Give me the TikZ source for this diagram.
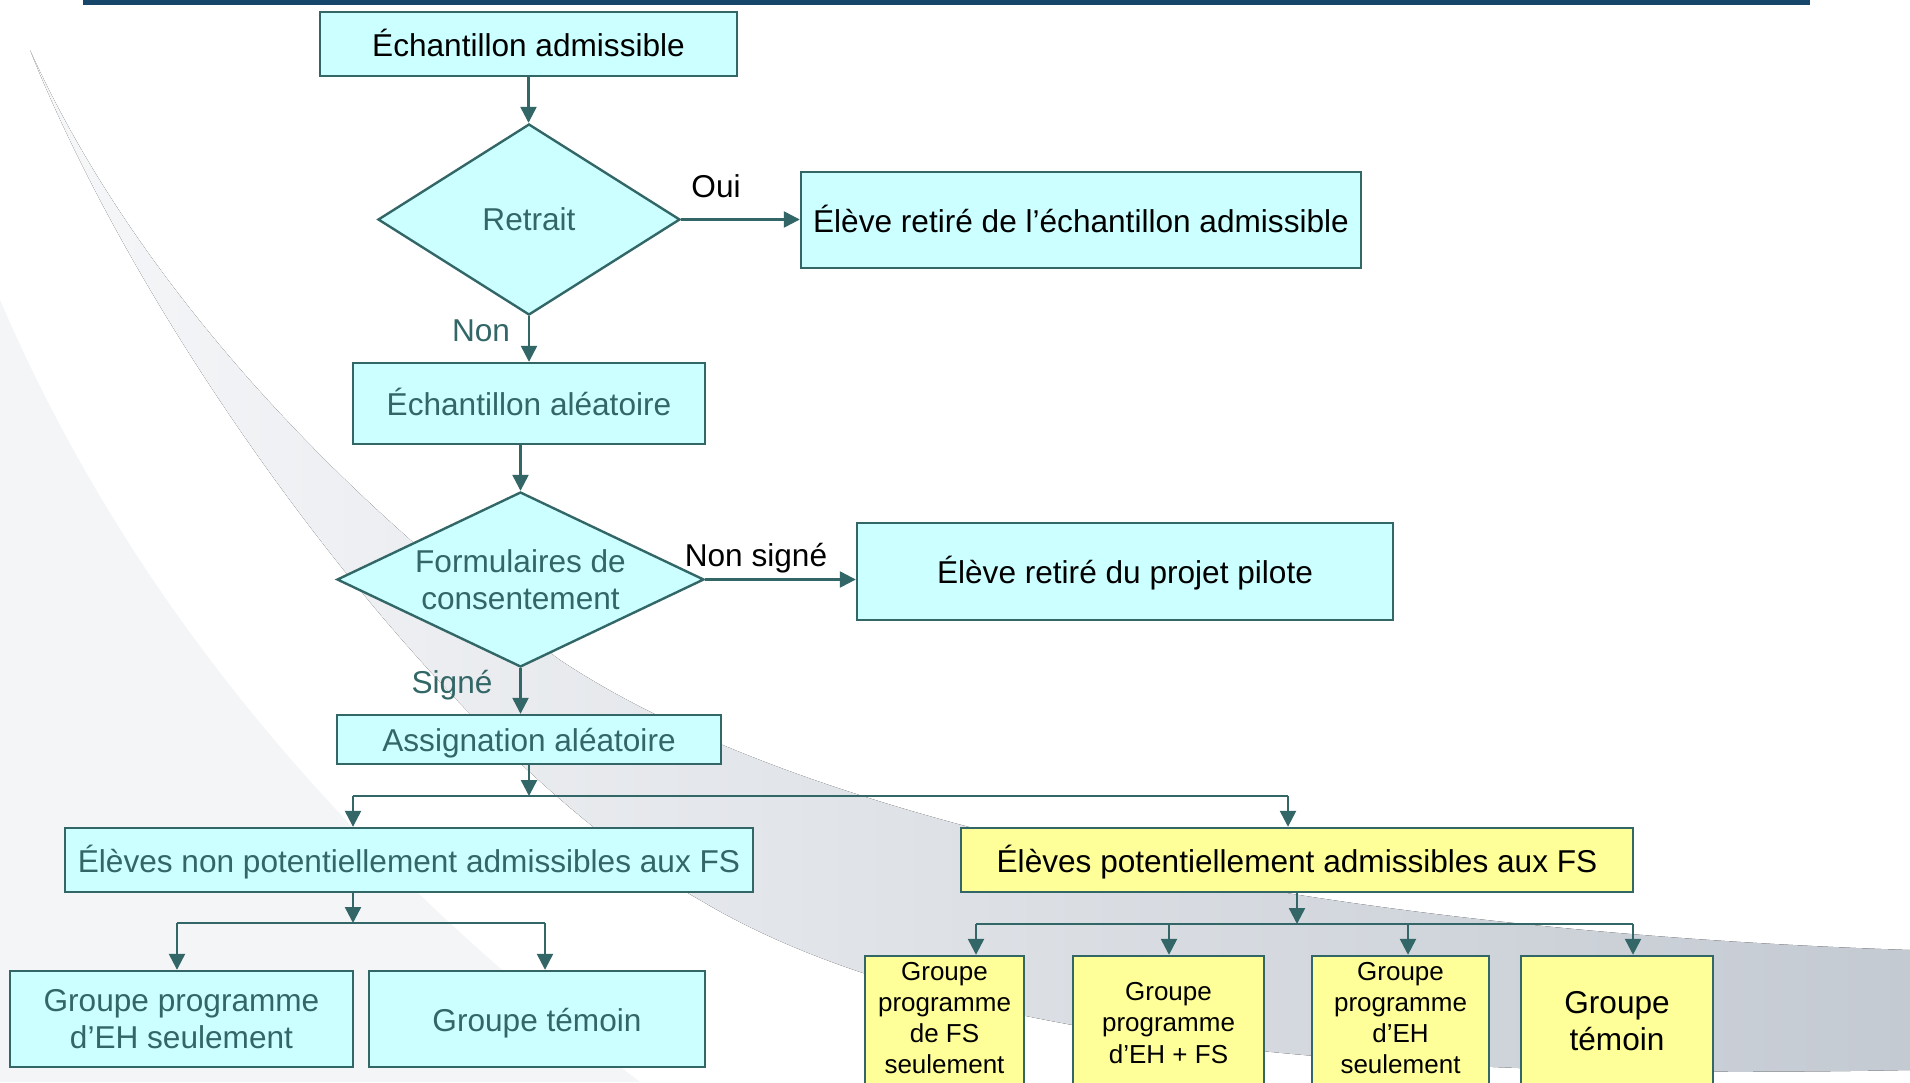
\documentclass[tikz,border=0pt]{standalone}
\usepackage{fontspec}
\setmainfont{Liberation Sans}
\usetikzlibrary{shapes.geometric,arrows.meta}
\definecolor{teal0}{HTML}{336666}
\definecolor{cyanf}{HTML}{CCFFFF}
\definecolor{yelf}{HTML}{FFFF99}
\definecolor{barc}{RGB}{22,70,105}
\definecolor{swA}{RGB}{196,202,210}
\definecolor{swL}{RGB}{246,247,249}
\definecolor{swB}{RGB}{244,245,247}
\newcommand\fsMain{\fontsize{15.8pt}{18.4pt}\selectfont}
\newcommand\fsSmall{\fontsize{13pt}{15.6pt}\selectfont}
\newcommand\lowstrut[1]{\rule[-#1]{0pt}{#1}}
\begin{document}
\begin{tikzpicture}[x=0.5pt,y=-0.5pt,
  tbox/.style={rectangle, draw=teal0, line width=1.2pt, fill=cyanf, inner sep=0pt, align=center, font=\fsMain, text=teal0},
  bbox/.style={tbox, text=black},
  one/.style={text height=14.3pt, text depth=2.1pt},
  ybox/.style={rectangle, draw=teal0, line width=1.2pt, fill=yelf, inner sep=0pt, align=center, font=\fsSmall, text=black},
  dia/.style={diamond, draw=teal0, line width=1.2pt, fill=cyanf, inner sep=0pt, align=center, font=\fsMain, text=teal0},
  arr/.style={draw=teal0, line width=1.2pt, -{Triangle[length=8pt,width=8pt]}},
  conn/.style={draw=teal0, line width=1.2pt},
  lbl/.style={font=\fsMain, inner sep=0pt, text height=11.3pt, text depth=0pt}]
\useasboundingbox (0,0) rectangle (1910,1082);
\clip (0,0) rectangle (1910,1082);
\fill[white] (0,0) rectangle (1910,1082);
% background swooshes
\fill[swB] (0,300) .. controls (150,650) and (400,900) .. (640,1082) -- (0,1082) -- cycle;
\fill[left color=swL, right color=swA] (30,50) .. controls (120,250) and (300,470) .. (560,660)
  .. controls (800,820) and (1300,930) .. (1910,950) -- (1910,1070)
  .. controls (1400,1080) and (950,1050) .. (700,900)
  .. controls (450,760) and (150,350) .. (30,50) -- cycle;
% top bar
\fill[barc] (83,0) rectangle (1810,5);

% nodes
\node[bbox, one, minimum width=208.5pt, minimum height=32pt] (b1) at (528.5,44) {Échantillon admissible};
\node[dia, minimum width=151pt, minimum height=95.5pt, aspect=1.58] (dRet) at (529,219.5) {Retrait};
\node[bbox, one, minimum width=280pt, minimum height=48pt] (bRet) at (1081,220) {Élève retiré de l’échantillon admissible};
\node[tbox, one, minimum width=176pt, minimum height=40.5pt] (bAlea) at (529,403.5) {Échantillon aléatoire};
\node[dia, minimum width=183.5pt, minimum height=87.5pt, aspect=2.1] (dForm) at (520.5,579.5) {Formulaires de\\consentement};
\node[bbox, one, minimum width=268pt, minimum height=48.5pt] (bProj) at (1125,571.5) {Élève retiré du projet pilote};
\node[tbox, one, minimum width=192pt, minimum height=24.5pt] (bAssign) at (529,739.5) {Assignation aléatoire};
\node[tbox, one, minimum width=344pt, minimum height=32pt] (bNonPot) at (409,860) {Élèves non potentiellement admissibles aux FS};
\node[ybox, one, font=\fsMain, minimum width=336pt, minimum height=32pt] (bPot) at (1297,860) {Élèves potentiellement admissibles aux FS};
\node[tbox, minimum width=171.5pt, minimum height=48pt] (g1) at (181.5,1019) {Groupe programme\\d’EH seulement};
\node[tbox, one, minimum width=168pt, minimum height=48pt] (g2) at (537,1019) {Groupe témoin};
\node[ybox, minimum width=79.5pt, minimum height=67pt] (y1) at (944.5,1023) {Groupe\\programme\\de FS\\seulement\lowstrut{5pt}};
\node[ybox, minimum width=95.5pt, minimum height=67pt] (y2) at (1168.5,1023) {Groupe\\programme\\d’EH + FS};
\node[ybox, minimum width=88.5pt, minimum height=67pt] (y3) at (1400.5,1023) {Groupe\\programme\\d’EH\\seulement\lowstrut{5pt}};
\node[ybox, font=\fsMain, minimum width=96pt, minimum height=67pt] (y4) at (1617,1023) {Groupe\\témoin\lowstrut{2pt}};

% labels
\node[lbl, text=black] (oui) at (716,186) {Oui};
\node[lbl, text=teal0] (non) at (481,330) {Non};
\node[lbl, text=black] (nonsigne) at (756,555) {Non signé};
\node[lbl, text=teal0] (signe) at (452,682) {Signé};

% connectors
\draw[arr] (b1.south) -- (b1.south |- dRet.north);
\draw[arr] (dRet.east) -- (bRet.west |- dRet.east);
\draw[arr] (dRet.south) -- (dRet.south |- bAlea.north);
\draw[arr] (bAlea.south -| dForm.north) -- (dForm.north);
\draw[arr] (dForm.east) -- (bProj.west |- dForm.east);
\draw[arr] (dForm.south) -- (dForm.south |- bAssign.north);

\coordinate (j0) at (529,796);
\coordinate (jL) at (353,796);
\coordinate (jR) at (1288,796);
\draw[arr] (bAssign.south) -- (j0);
\draw[conn] (jL) -- (jR);
\draw[arr] (jL) -- (jL |- bNonPot.north);
\draw[arr] (jR) -- (jR |- bPot.north);

\coordinate (k0) at (353,923);
\coordinate (kA) at (177,923);
\coordinate (kB) at (545,923);
\draw[arr] (bNonPot.south -| k0) -- (k0);
\draw[conn] (kA) -- (kB);
\draw[arr] (kA) -- (kA |- g1.north);
\draw[arr] (kB) -- (kB |- g2.north);

\coordinate (m0) at (1297,924);
\coordinate (m1) at (976,924);
\coordinate (m2) at (1169,924);
\coordinate (m3) at (1408,924);
\coordinate (m4) at (1633,924);
\draw[arr] (bPot.south) -- (m0);
\draw[conn] (m1) -- (m4);
\draw[arr] (m1) -- (m1 |- y1.north);
\draw[arr] (m2) -- (m2 |- y2.north);
\draw[arr] (m3) -- (m3 |- y3.north);
\draw[arr] (m4) -- (m4 |- y4.north);
\end{tikzpicture}
\end{document}
